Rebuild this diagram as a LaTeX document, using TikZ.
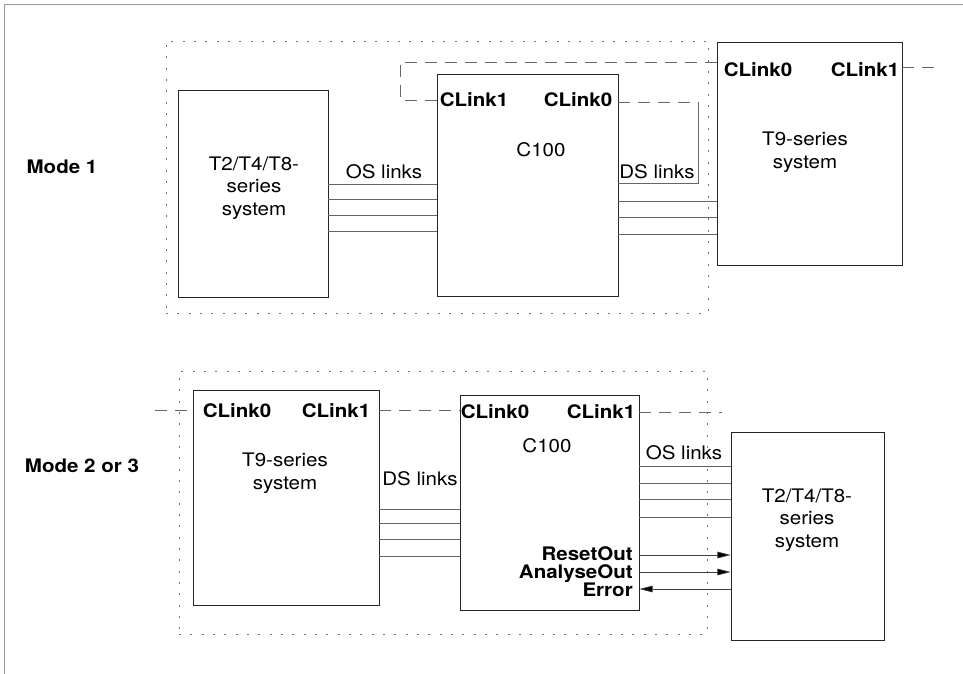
\documentclass[tikz,border=0pt]{standalone}
\usepackage{fontspec}
\setmainfont{TeX Gyre Heros}[FakeStretch=1.1]
\usetikzlibrary{fit,arrows.meta}
\begin{document}
\begin{tikzpicture}[x=0.75pt,y=-0.75pt,
 box/.style={draw=black!85, line width=0.6pt, inner sep=0pt},
 dotbox/.style={draw=black!55, line width=0.6pt, dash pattern=on 1.5pt off 7pt, inner sep=0pt},
 txt/.style={font=\fontsize{14}{17}\selectfont, align=center, inner sep=0pt},
 btxt/.style={font=\fontsize{14}{17}\selectfont\bfseries, inner sep=0pt},
 link/.style={draw=black!60, line width=0.5pt},
 clink/.style={draw=black!60, line width=0.5pt, dash pattern=on 9pt off 6pt},
 sig/.style={draw=black!75, line width=0.5pt, -{Triangle[length=10pt,width=5pt,fill=black]}}
]
\useasboundingbox (0,0) rectangle (963,674);
\draw[black!40, line width=0.6pt] (4,674) -- (4,4) -- (963,4);

% ---------- Mode 1 ----------
\node[dotbox, fit={(166,41)(708,313)}] (d1) {};
\node[box, fit={(178,90)(328,297)}] (t2a) {};
\node[box, fit={(437,74)(618,296)}] (c1) {};
\node[box, fit={(717,42)(902,265)}] (t9a) {};

\node[btxt] (m1) at (62,167) {Mode 1};
\node[txt] (t2atx) at (254,188) {T2/T4/T8-\\series\\system};
\node[txt] (c1tx) at (541,150) {C100};
\node[btxt] (c1l1) at (474,100) {CLink1};
\node[btxt] (c1l0) at (578,100) {CLink0};
\node[txt] (t9atx) at (805,152) {T9-series\\system};
\node[btxt] (t9al0) at (758,70) {CLink0};
\node[btxt] (t9al1) at (865,70) {CLink1};
\node[txt] (os1) at (384,172) {OS links};
\node[txt] (ds1) at (657,172) {DS links};

\coordinate (k1) at (400,62);
\coordinate (k2) at (698,102);
\coordinate (k3) at (940,67);
\draw[clink] (c1.west |- c1l1) -| (k1) -- (t9a.west |- k1);
\draw[clink] (c1.east |- k2) -- (k2);
\draw[link] (k2) -- (k2 |- 0,183) -- (c1.east |- 0,183);
\draw[clink] (t9a.east |- k3) -- (k3);
\foreach \y in {184,199,215,231} \draw[link] (t2a.east |- 0,\y) -- (c1.west |- 0,\y);
\foreach \y in {201,217,234} \draw[link] (c1.east |- 0,\y) -- (t9a.west |- 0,\y);

% ---------- Mode 2 or 3 ----------
\node[dotbox, fit={(179,371)(707,634)}] (d2) {};
\node[box, fit={(193,390)(379,605)}] (t9b) {};
\node[box, fit={(460,395)(639,610)}] (c2) {};
\node[box, fit={(731,432)(884,640)}] (t2b) {};

\node[btxt] (m2) at (82,466) {Mode 2 or 3};
\node[txt] (t9btx) at (285,473) {T9-series\\system};
\node[btxt] (t9bl0) at (237,411) {CLink0};
\node[btxt] (t9bl1) at (336,411) {CLink1};
\node[txt] (c2tx) at (547,446) {C100};
\node[btxt] (c2l0) at (495,412) {CLink0};
\node[btxt] (c2l1) at (601,412) {CLink1};
\node[txt] (t2btx) at (807,520) {T2/T4/T8-\\series\\system};
\node[txt] (os2) at (684,453) {OS links};
\node[txt] (ds2) at (420,479) {DS links};
\node[btxt, align=right, anchor=east, font=\fontsize{14}{13.5}\selectfont\bfseries] (sigs) at (633,572) {ResetOut\\AnalyseOut\\Error};

\coordinate (k4) at (155,410);
\coordinate (k5) at (722,412);
\draw[clink] (k4) -- (t9b.west |- k4);
\draw[clink] (t9b.east |- k4) -- (c2.west |- k4);
\draw[clink] (c2.east |- k5) -- (k5);
\foreach \y in {509,523,539,556} \draw[link] (t9b.east |- 0,\y) -- (c2.west |- 0,\y);
\foreach \y in {466,483,499,517} \draw[link] (c2.east |- 0,\y) -- (t2b.west |- 0,\y);
\draw[sig] (c2.east |- 0,555) -- (t2b.west |- 0,555);
\draw[sig] (c2.east |- 0,572) -- (t2b.west |- 0,572);
\draw[sig] (t2b.west |- 0,589) -- (c2.east |- 0,589);
\end{tikzpicture}
\end{document}
